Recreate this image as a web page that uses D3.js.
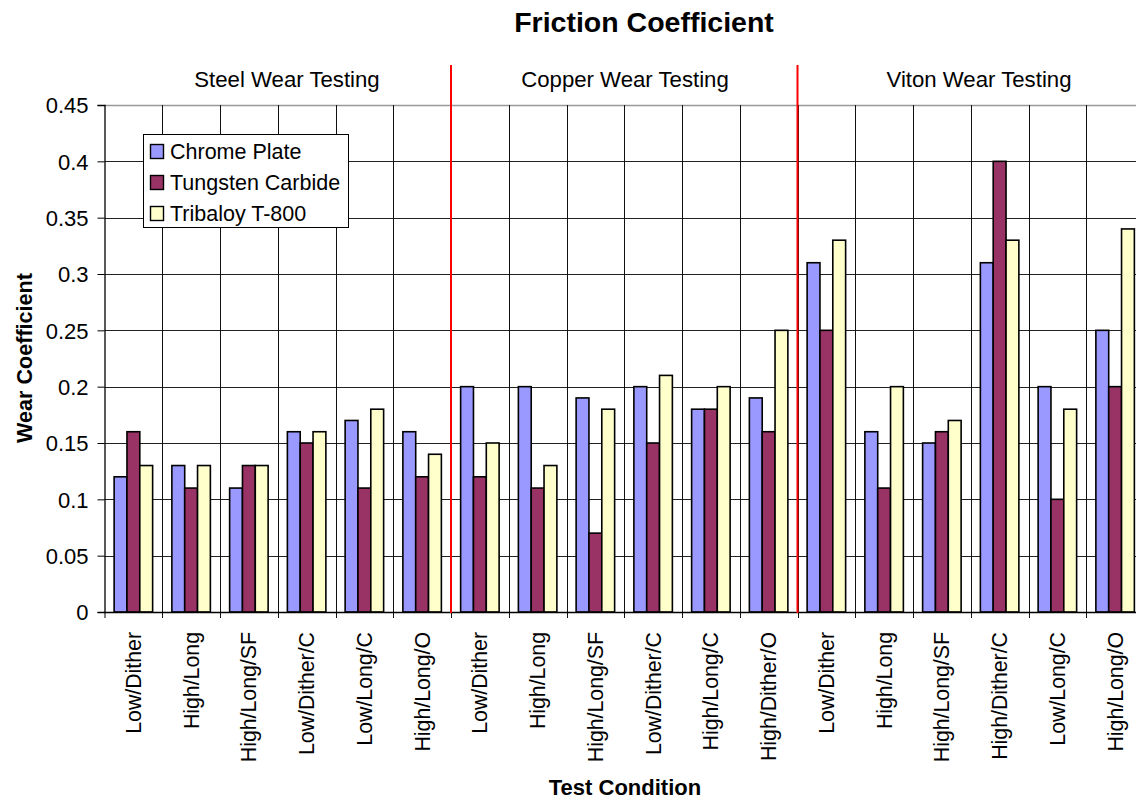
<!DOCTYPE html>
<html>
<head>
<meta charset="utf-8">
<script src="https://cdn.jsdelivr.net/npm/d3@7/dist/d3.min.js"></script>
<style>
  html, body { margin: 0; padding: 0; background: #fff; }
  svg { display: block; font-family: "Liberation Sans", Arial, sans-serif; }
</style>
</head>
<body>
<svg id="chart" width="1136" height="801"></svg>
<script>
const categories = [
  "Low/Dither", "High/Long", "High/Long/SF", "Low/Dither/C", "Low/Long/C", "High/Long/O",
  "Low/Dither", "High/Long", "High/Long/SF", "Low/Dither/C", "High/Long/C", "High/Dither/O",
  "Low/Dither", "High/Long", "High/Long/SF", "High/Dither/C", "Low/Long/C", "High/Long/O"
];
const seriesNames = ["Chrome Plate", "Tungsten Carbide", "Tribaloy T-800"];
const chromePlate = [0.12, 0.13, 0.11, 0.16, 0.17, 0.16, 0.20, 0.20, 0.19, 0.20, 0.18, 0.19, 0.31, 0.16, 0.15, 0.31, 0.20, 0.25];
const tungstenCarbide = [0.16, 0.11, 0.13, 0.15, 0.11, 0.12, 0.12, 0.11, 0.07, 0.15, 0.18, 0.16, 0.25, 0.11, 0.16, 0.40, 0.10, 0.20];
const tribaloy = [0.13, 0.13, 0.13, 0.16, 0.18, 0.14, 0.15, 0.13, 0.18, 0.21, 0.20, 0.25, 0.33, 0.20, 0.17, 0.33, 0.18, 0.34];
const sectionNames = ["Steel Wear Testing", "Copper Wear Testing", "Viton Wear Testing"];
const sectionStarts = [0, 6, 12];
const yTicks = [0, 0.05, 0.1, 0.15, 0.2, 0.25, 0.3, 0.35, 0.4, 0.45];
const colors = ["#9999FF", "#993366", "#FFFFCC"];

const series = [chromePlate, tungstenCarbide, tribaloy];
const svg = d3.select("#chart");

const plotLeft = 104.5, catW = 57.75;
const plotRight = plotLeft + catW * categories.length;
const plotTop = 105, plotBottom = 612;

const x = d3.scaleBand().domain(d3.range(categories.length)).range([plotLeft, plotRight]).padding(0);
const bw = catW / 4.5; // gap width 150%
const x1 = d3.scaleBand().domain(d3.range(3)).range([bw * 0.75, bw * 0.75 + 3 * bw]).padding(0);
const y = d3.scaleLinear().domain([0, 0.45]).range([plotBottom, plotTop]);

// horizontal gridlines
svg.append("g").selectAll("line").data(yTicks.filter(t => t > 0 && t < 0.45)).join("line")
  .attr("x1", plotLeft).attr("x2", 1136)
  .attr("y1", d => Math.round(y(d)) + 0.5).attr("y2", d => Math.round(y(d)) + 0.5)
  .attr("stroke", "#222").attr("stroke-width", 1);
// top border
svg.append("line").attr("x1", plotLeft).attr("x2", 1136)
  .attr("y1", plotTop + 0.5).attr("y2", plotTop + 0.5)
  .attr("stroke", "#999").attr("stroke-width", 1.5);

// vertical gridlines at category boundaries
svg.append("g").selectAll("line").data(d3.range(1, categories.length + 1)).join("line")
  .attr("x1", i => Math.round(x(0) + i * x.bandwidth()) + 0.5)
  .attr("x2", i => Math.round(x(0) + i * x.bandwidth()) + 0.5)
  .attr("y1", plotTop).attr("y2", plotBottom + 6)
  .attr("stroke", "#111").attr("stroke-width", 1);

// bars
const barData = [];
categories.forEach((c, i) => series.forEach((s, j) => barData.push({ i, j, v: s[i] })));
svg.append("g").selectAll("rect").data(barData).join("rect")
  .attr("x", d => x(d.i) + x1(d.j))
  .attr("y", d => y(d.v))
  .attr("width", x1.bandwidth())
  .attr("height", d => y(0) - y(d.v))
  .attr("fill", d => colors[d.j])
  .attr("stroke", "#000").attr("stroke-width", 1.6);

// y axis
const yAxis = svg.append("g").attr("transform", `translate(${plotLeft},0)`)
  .call(d3.axisLeft(y).tickValues(yTicks).tickSize(7).tickPadding(9).tickFormat(d3.format("")));
yAxis.select(".domain").attr("stroke", "#000").attr("stroke-width", 1.3);
yAxis.selectAll(".tick line").attr("stroke", "#000");
yAxis.selectAll(".tick text").attr("font-size", 22).attr("fill", "#000")
  .attr("font-family", "Liberation Sans, Arial, sans-serif").attr("dy", "0.36em");

// x axis line
svg.append("line").attr("x1", plotLeft).attr("x2", 1136)
  .attr("y1", plotBottom + 0.5).attr("y2", plotBottom + 0.5)
  .attr("stroke", "#000").attr("stroke-width", 1.3);
// left tick at origin
svg.append("line").attr("x1", plotLeft + 0.5).attr("x2", plotLeft + 0.5)
  .attr("y1", plotBottom).attr("y2", plotBottom + 6).attr("stroke", "#000");

// x tick labels
svg.append("g").selectAll("text").data(categories).join("text")
  .attr("transform", (d, i) => `translate(${x(i) + x.bandwidth() / 2},632) rotate(-90)`)
  .attr("text-anchor", "end").attr("dy", "0.35em")
  .attr("font-size", 21.3).attr("fill", "#000")
  .text(d => d);

// section separators
svg.append("g").selectAll("line").data(sectionStarts.slice(1)).join("line")
  .attr("x1", i => x(i)).attr("x2", i => x(i))
  .attr("y1", 65).attr("y2", plotBottom + 1)
  .attr("stroke", "#FF0000").attr("stroke-width", 2);

// section labels
const sectionLabelX = [287, 625, 979];
svg.append("g").selectAll("text").data(sectionNames).join("text")
  .attr("x", (d, i) => sectionLabelX[i]).attr("y", 87)
  .attr("text-anchor", "middle").attr("font-size", 22.2).attr("fill", "#000")
  .text(d => d);

// title
svg.append("text").attr("x", 644).attr("y", 32).attr("text-anchor", "middle")
  .attr("font-size", 28.5).attr("font-weight", "bold").attr("fill", "#000")
  .text("Friction Coefficient");

// axis titles
svg.append("text").attr("x", 625).attr("y", 795).attr("text-anchor", "middle")
  .attr("font-size", 22).attr("font-weight", "bold").attr("fill", "#000")
  .text("Test Condition");
svg.append("text").attr("transform", "translate(32,358) rotate(-90)").attr("text-anchor", "middle")
  .attr("font-size", 21.6).attr("font-weight", "bold").attr("fill", "#000")
  .text("Wear Coefficient");

// legend
const lg = svg.append("g");
lg.append("rect").attr("x", 143.5).attr("y", 134.5).attr("width", 205).attr("height", 93)
  .attr("fill", "#fff").attr("stroke", "#000").attr("stroke-width", 1);
const rows = lg.selectAll("g.row").data(seriesNames).join("g").attr("class", "row")
  .attr("transform", (d, i) => `translate(0,${i * 31})`);
rows.append("rect").attr("x", 150.5).attr("y", 144.5).attr("width", 13).attr("height", 14)
  .attr("fill", (d, i) => colors[i]).attr("stroke", "#000").attr("stroke-width", 1.4);
rows.append("text").attr("x", 170).attr("y", 159).attr("font-size", 21.5).attr("fill", "#000")
  .text(d => d);
</script>
</body>
</html>
